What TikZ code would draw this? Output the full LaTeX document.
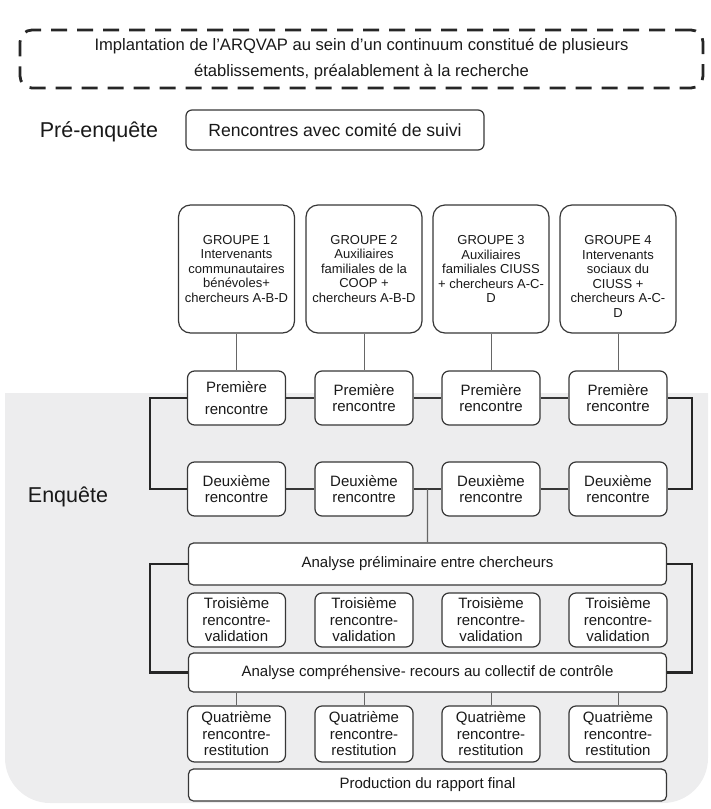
\documentclass[tikz,border=0pt]{standalone}
\usepackage{fontspec}
\setmainfont{Liberation Sans}
\usetikzlibrary{calc}

\definecolor{fondgris}{RGB}{237,237,238}
\definecolor{trait}{RGB}{55,55,55}

\begin{document}
\begin{tikzpicture}[x=1pt,y=-1pt,
  boite/.style={draw=trait, line width=1.2pt, rounded corners=7pt, fill=white, text=black!90, align=center, inner sep=2pt, font=\fontsize{15}{16.5}\selectfont},
  etape/.style={boite, minimum width=98pt, minimum height=54pt},
  large/.style={boite, minimum width=478pt, rounded corners=5pt},
  groupe/.style={boite, minimum width=116pt, minimum height=128pt, rounded corners=12pt, font=\fontsize{13}{14.5}\selectfont},
  titre/.style={text=black!90, font=\fontsize{21.5}{24}\selectfont},
  lien/.style={draw=trait, line width=2pt},
  crochet/.style={draw=black!85, line width=2.6pt},
  tige/.style={draw=black!60, line width=0.9pt}]
\useasboundingbox (0,0) rectangle (711,809);

\begin{scope}
\clip (0,393) rectangle (711,809);
\fill[fondgris, rounded corners=45pt] (5,300) rectangle (708,803);
\end{scope}

\node (implant) [draw=black!85, line width=2.8pt, dash pattern=on 16pt off 10pt, rounded corners=12pt, minimum width=683pt, minimum height=58pt, align=center, text=black!90, font=\fontsize{16.6}{26}\selectfont] at (361.5,59) {Implantation de l'ARQVAP au sein d'un continuum constitué de plusieurs\\établissements, préalablement à la recherche};

\node (pre) [titre] at (99,132) {Pré-enquête};
\node (comite) [boite, minimum width=298pt, minimum height=40pt, rounded corners=6pt, font=\fontsize{17.6}{20}\selectfont] at (335,130) {Rencontres avec comité de suivi};
\node (enq) [titre] at (68,497) {Enquête};

\node (g1) [groupe] at (236.5,269) {GROUPE 1\\Intervenants\\communautaires\\bénévoles+\\chercheurs A-B-D};
\node (g2) [groupe] at (364,269) {GROUPE 2\\Auxiliaires\\familiales de la\\COOP +\\chercheurs A-B-D};
\node (g3) [groupe] at (491,269) {GROUPE 3\\Auxiliaires\\familiales CIUSS\\+ chercheurs A-C-\\D};
\node (g4) [groupe] at (618,269) {\rule{0pt}{24pt}GROUPE 4\\Intervenants\\sociaux du\\CIUSS +\\chercheurs A-C-\\D};

\node (p1) [etape] at (236.5,398) {Première\\[6pt]rencontre};
\node (p2) [etape] at (364,398) {Première\\rencontre};
\node (p3) [etape] at (491,398) {Première\\rencontre};
\node (p4) [etape] at (618,398) {Première\\rencontre};

\node (d1) [etape] at (236.5,489) {Deuxième\\rencontre};
\node (d2) [etape] at (364,489) {Deuxième\\rencontre};
\node (d3) [etape] at (491,489) {Deuxième\\rencontre};
\node (d4) [etape] at (618,489) {Deuxième\\rencontre};

\node (a1) [large, minimum height=42pt] at (427.5,564) {Analyse préliminaire entre chercheurs};

\node (t1) [etape] at (236.5,620) {Troisième\\rencontre-\\validation};
\node (t2) [etape] at (364,620) {Troisième\\rencontre-\\validation};
\node (t3) [etape] at (491,620) {Troisième\\rencontre-\\validation};
\node (t4) [etape] at (618,620) {Troisième\\rencontre-\\validation};

\node (ac) [large, minimum height=39pt] at (427.5,672.5) {Analyse compréhensive- recours au collectif de contrôle};

\node (q1) [etape, minimum height=56pt] at (236.5,734) {Quatrième\\rencontre-\\restitution};
\node (q2) [etape, minimum height=56pt] at (364,734) {Quatrième\\rencontre-\\restitution};
\node (q3) [etape, minimum height=56pt] at (491,734) {Quatrième\\rencontre-\\restitution};
\node (q4) [etape, minimum height=56pt] at (618,734) {Quatrième\\rencontre-\\restitution};

\node (rapport) [large, minimum height=32pt] at (427.5,785) {Production du rapport final};

\coordinate (gauche) at (150,0);
\coordinate (droite) at (692,0);

\draw[tige] (g1) -- (p1);
\draw[tige] (g2) -- (p2);
\draw[tige] (g3) -- (p3);
\draw[tige] (g4) -- (p4);

\draw[lien] (p1.east) -- (p2.west);
\draw[lien] (p2.east) -- (p3.west);
\draw[lien] (p3.east) -- (p4.west);
\draw[lien] (d1.east) -- (d2.west);
\draw[lien] (d2.east) -- (d3.west);
\draw[lien] (d3.east) -- (d4.west);
\draw[crochet] (p1.west) -- (p1.west -| gauche) |- (d1.west);
\draw[crochet] (p4.east) -- (p4.east -| droite) |- (d4.east);

\draw[tige, line width=1.3pt] ($(d2.east)!.5!(d3.west)$) -- (a1.north);

\draw[crochet] (a1.west) -- (a1.west -| gauche) |- (ac.west);
\draw[crochet] (a1.east) -- (a1.east -| droite) |- (ac.east);

\draw[tige] (ac.south -| q1) -- (q1.north);
\draw[tige] (ac.south -| q2) -- (q2.north);
\draw[tige] (ac.south -| q3) -- (q3.north);
\draw[tige] (ac.south -| q4) -- (q4.north);
\end{tikzpicture}
\end{document}
